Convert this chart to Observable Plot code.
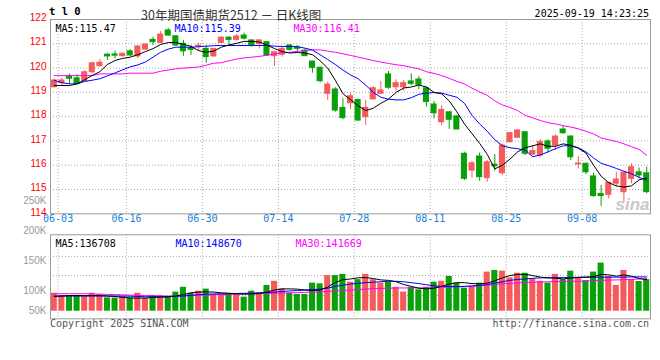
<!DOCTYPE html>
<html><head><meta charset="utf-8">
<script src="https://cdn.jsdelivr.net/npm/d3@7"></script>
<script src="https://cdn.jsdelivr.net/npm/@observablehq/plot@0.6"></script>
<style>
body{margin:0;background:#fff}
#wrap{position:relative;width:660px;height:360px;overflow:hidden;background:#fff}
#wrap svg{position:absolute;left:0}
.t{position:absolute;white-space:nowrap;line-height:1}
</style></head><body><div id="wrap"></div>
<script>
// ---------- data ----------
const dateLabels = ["06-03","06-16","06-30","07-14","07-28","08-11","08-25","09-08"];
const dateIdx = [0, 9, 19, 29, 39, 49, 59, 69];
const priceTicks = [114,115,116,117,118,119,120,121,122];
const priceGrid = [115,116,117,118,119,120,121];
const volTickLabels = ["250K","200K","150K","100K"];
const volTickValues = [250,200,150,100];
const volLowLabel = ["50K"];
const volLowValue = [50];
const volGrid = [238,155,68];

const open  = [119.21,119.38,119.65,119.58,119.46,119.83,120.08,120.55,120.56,120.49,
               120.69,120.48,120.76,121.16,121.04,121.55,121.31,121.00,120.82,120.89,
               120.79,120.48,121.04,121.25,121.16,121.34,121.14,121.00,121.07,120.49,
               120.55,120.93,120.86,120.72,120.27,120.01,118.94,119.12,118.36,118.55,
               118.69,117.98,118.71,118.94,119.74,119.21,119.21,119.45,119.53,119.17,
               118.50,117.77,118.18,118.01,116.47,115.78,116.36,115.47,116.02,115.67,
               116.95,117.13,117.36,116.44,116.40,116.98,116.81,117.47,117.18,116.03,
               116.06,115.54,114.82,114.78,115.24,114.89,115.44,115.71,115.67];
const high  = [119.56,119.58,119.76,119.74,119.90,120.24,120.35,120.61,120.69,120.61,
               120.76,120.93,121.00,121.27,121.51,121.63,121.34,121.14,120.93,121.02,
               120.93,120.80,121.30,121.30,121.38,121.44,121.14,121.14,121.07,120.69,
               120.86,120.96,120.93,120.79,120.27,120.04,119.42,119.19,118.74,118.94,
               118.71,118.67,119.24,119.45,119.86,119.52,119.49,119.76,119.65,119.21,
               118.62,118.46,118.18,118.05,116.54,116.17,116.50,116.19,116.44,116.88,
               117.36,117.46,117.36,116.81,117.05,117.05,117.25,117.60,117.22,116.36,
               116.06,115.67,115.17,115.28,115.71,115.71,116.06,115.89,115.92];
const low   = [119.19,119.28,119.32,119.32,119.45,119.76,120.04,120.31,120.38,120.45,
               120.48,120.38,120.75,120.93,121.00,121.30,120.89,120.48,120.52,120.69,
               120.20,120.45,121.00,120.93,121.11,121.16,120.86,120.79,120.48,120.07,
               120.45,120.69,120.65,120.48,119.79,119.39,118.67,118.18,117.87,118.29,
               117.81,117.64,118.71,118.94,119.12,119.04,119.04,119.28,119.11,118.39,
               117.91,117.64,117.47,117.47,115.37,115.47,115.34,115.30,115.75,115.58,
               116.92,117.13,116.40,116.40,116.33,116.50,116.61,117.27,116.19,115.85,
               115.62,114.68,114.30,114.62,115.10,114.48,115.24,115.44,114.82];
const close = [119.49,119.49,119.56,119.35,119.83,120.20,120.22,120.48,120.51,120.59,
               120.52,120.89,120.97,121.07,121.38,121.34,120.93,120.69,120.75,120.92,
               120.45,120.79,121.25,121.16,121.30,121.21,120.93,121.14,120.52,120.65,
               120.79,120.75,120.79,120.49,120.01,119.46,119.32,118.25,117.94,118.84,
               117.84,118.36,119.17,119.08,119.19,119.38,119.38,119.35,119.31,118.60,
               118.14,118.28,117.87,117.47,115.44,116.08,115.51,116.12,115.96,116.81,
               117.32,117.43,116.47,116.58,116.95,116.68,117.18,117.32,116.33,116.07,
               115.71,114.73,114.73,115.28,115.41,115.69,115.92,115.58,114.89];
const ma5   = [119.28,119.28,119.28,119.35,119.52,119.70,119.85,120.15,120.31,120.40,
               120.45,120.55,120.68,120.80,120.97,121.05,121.05,120.98,120.89,120.72,
               120.65,120.70,120.86,120.95,121.02,121.10,121.10,121.07,120.95,120.80,
               120.68,120.62,120.64,120.62,120.55,120.30,120.00,119.50,118.95,118.70,
               118.45,118.25,118.35,118.55,118.72,119.00,119.18,119.22,119.30,119.22,
               119.00,118.94,118.65,118.20,117.70,117.30,116.90,116.45,115.85,116.00,
               116.25,116.55,116.72,116.80,116.88,116.78,116.78,116.88,116.82,116.70,
               116.50,116.00,115.55,115.28,115.15,115.10,115.15,115.40,115.47];
const ma10  = [119.49,119.40,119.35,119.35,119.45,119.50,119.56,119.68,119.80,119.93,
               120.05,120.13,120.25,120.45,120.65,120.78,120.86,120.86,120.86,120.88,
               120.90,120.92,120.93,120.93,120.93,120.93,120.93,120.93,120.93,120.90,
               120.89,120.89,120.88,120.82,120.74,120.55,120.35,120.15,119.92,119.72,
               119.56,119.30,119.00,118.80,118.72,118.69,118.69,118.78,118.92,118.97,
               118.99,118.97,118.88,118.80,118.55,118.05,117.70,117.40,117.05,116.80,
               116.72,116.68,116.62,116.35,116.42,116.55,116.68,116.80,116.80,116.72,
               116.55,116.30,116.08,115.98,115.87,115.75,115.65,115.50,115.39];
const ma30  = [119.69,119.69,119.69,119.69,119.69,119.69,119.76,119.76,119.76,119.76,
               119.79,119.79,119.79,119.79,119.87,119.92,119.97,120.00,120.02,120.04,
               120.12,120.20,120.22,120.30,120.37,120.42,120.45,120.48,120.53,120.58,
               120.62,120.65,120.69,120.72,120.75,120.75,120.70,120.65,120.59,120.52,
               120.45,120.38,120.31,120.25,120.19,120.14,120.10,120.03,119.97,119.85,
               119.78,119.69,119.58,119.45,119.35,119.17,119.02,118.88,118.65,118.48,
               118.38,118.25,118.05,117.95,117.84,117.75,117.70,117.63,117.57,117.50,
               117.40,117.29,117.12,117.05,116.98,116.88,116.76,116.65,116.41];
// volume in thousand lots
const vol   = [78,68,68,68,68,78,73,58,57,64, 58,78,57,68,68,61,83,104,78,87,
               96,73,73,76,76,61,87,78,112,130, 97,78,73,73,122,119,155,155,160,126,
               137,160,137,122,126,104,83,104,93,104, 126,130,151,122,100,104,122,170,177,174,
               145,165,165,141,130,122,160,137,174,145, 133,170,209,151,112,177,137,129,137];
const vma5  = [64,66,68,68,68,68,68,66,64,60, 57,57,57,60,61,62,66,72,80,83,
               84,83,80,78,76,74,75,77,83,92, 97,97,96,92,90,92,105,125,137,140,
               145,146,142,136,134,128,116,108,100,97, 100,108,118,124,124,120,119,122,132,145,
               155,160,160,155,148,145,144,140,144,147, 148,150,160,158,152,158,152,142,137];
const vma10 = [66,66,66,66,66,66,66,66,66,66, 65,64,63,63,63,64,65,66,69,72,
               74,75,76,76,77,78,79,80,81,83, 86,88,90,92,94,96,100,108,113,118,
               121,124,126,128,130,130,128,124,120,115, 110,108,107,107,108,110,112,116,122,128,
               134,138,140,143,145,145,146,146,147,147, 148,148,148,148,148,148,149,149,149];
const vma30 = [76,76,76,76,76,75,74,73,72,71, 70,69,68,67,66,66,66,67,68,69,
               70,71,72,73,74,75,75,76,77,78, 79,80,81,82,83,84,86,88,90,92,
               94,96,98,99,100,101,101,101,101,102, 103,104,105,106,107,108,110,113,116,119,
               121,123,125,126,127,128,129,129,130,130, 131,132,134,135,136,137,138,140,142];
const priceMALabels = ["MA5:115.47","MA10:115.39","MA30:116.41"];
const volMALabels = ["MA5:136708","MA10:148670","MA30:141669"];
const titleText = "30年期国债期货2512 － 日K线图";
const codeText = "t l 0";
const timeText = "2025-09-19 14:23:25";
const copyText = "Copyright 2025 SINA.COM";
const urlText = "http://finance.sina.com.cn";

// ---------- build ----------
const UP = "#f65b5b", DN = "#09a009";
const MONO = "DejaVu Sans Mono, Liberation Mono, monospace";
const SANS = "Liberation Sans, Arial, sans-serif";
const GRID = "#aaaaaa", FRAME = "#9a9a9a";
const slots = d3.range(open.length);
const candles = slots.map(i => ({i, o: open[i], h: high[i], l: low[i], c: close[i], v: vol[i]}));
const col = d => d.c >= d.o ? UP : DN;
const wrap = document.getElementById("wrap");

const main = Plot.plot({
  width: 660, height: 230,
  marginTop: 19, marginBottom: 16.7, marginLeft: 50, marginRight: 10,
  x: {domain: [-0.5, 78.5], axis: null},
  y: {domain: [114, 122], axis: null},
  style: {background: "transparent", fontFamily: SANS, overflow: "visible"},
  marks: [
    Plot.ruleY(priceGrid, {stroke: GRID, strokeDasharray: "1,2"}),
    Plot.ruleX(dateIdx, {x: d => d + 0.5, stroke: GRID, strokeDasharray: "1,2"}),
    Plot.ruleX(candles, {x: "i", y1: "l", y2: "h", stroke: col, strokeWidth: 1}),
    Plot.rect(candles, {x1: d => d.i - 0.4, x2: d => d.i + 0.4, y1: "o", y2: "c", fill: col, insetTop: -0.5, insetBottom: -0.5}),
    Plot.line(slots, {x: d => d, y: i => ma30[i], stroke: "#ff00ff", strokeWidth: 1}),
    Plot.line(slots, {x: d => d, y: i => ma10[i], stroke: "#0000ff", strokeWidth: 1}),
    Plot.line(slots, {x: d => d, y: i => ma5[i], stroke: "#000000", strokeWidth: 1}),
    Plot.frame({stroke: FRAME}),
    Plot.axisY({ticks: priceTicks, tickSize: 0, tickPadding: 4, color: "#ff0000", fontSize: 10, fontFamily: SANS, dy: -1.5, tickFormat: d => String(d)}),
    Plot.text(dateLabels, {x: (d, k) => dateIdx[k] + 0.5, frameAnchor: "bottom", dy: 8, fill: "#1a7fd4", fontFamily: MONO, fontSize: 10}),
    Plot.text([priceMALabels[0]], {frameAnchor: "top-left", dx: 5, dy: 5, textAnchor: "start", fill: "#000", fontFamily: MONO, fontSize: 10}),
    Plot.text([priceMALabels[1]], {frameAnchor: "top-left", dx: 124, dy: 5, textAnchor: "start", fill: "#0000ff", fontFamily: MONO, fontSize: 10}),
    Plot.text([priceMALabels[2]], {frameAnchor: "top-left", dx: 243, dy: 5, textAnchor: "start", fill: "#ff00ff", fontFamily: MONO, fontSize: 10}),
    Plot.text(["sina"], {frameAnchor: "bottom-right", dx: -1, dy: -4, textAnchor: "end", lineAnchor: "bottom", fill: "#c8c8c8", fontSize: 17, fontWeight: "bold", fontStyle: "italic", fontFamily: SANS})
  ]
});
main.style.top = "0px";
wrap.appendChild(main);

const volPlot = Plot.plot({
  width: 660, height: 92,
  marginTop: 4.3, marginBottom: 3.7, marginLeft: 50, marginRight: 10,
  x: {domain: [-0.5, 78.5], axis: null},
  y: {domain: [-33, 332], axis: null},
  style: {background: "transparent", fontFamily: SANS, overflow: "visible"},
  marks: [
    Plot.ruleY(volGrid, {stroke: GRID, strokeDasharray: "1,2"}),
    Plot.ruleX(dateIdx, {x: d => d + 0.5, stroke: GRID, strokeDasharray: "1,2"}),
    Plot.rect(candles, {x1: d => d.i - 0.4, x2: d => d.i + 0.4, y1: 0, y2: "v", fill: col}),
    Plot.line(slots, {x: d => d, y: i => vma30[i], stroke: "#ff00ff", strokeWidth: 1}),
    Plot.line(slots, {x: d => d, y: i => vma10[i], stroke: "#0000ff", strokeWidth: 1}),
    Plot.line(slots, {x: d => d, y: i => vma5[i], stroke: "#000000", strokeWidth: 1}),
    Plot.frame({stroke: FRAME}),
    Plot.text([volMALabels[0]], {frameAnchor: "top-left", dx: 5, dy: 5, textAnchor: "start", fill: "#000", fontFamily: MONO, fontSize: 10}),
    Plot.text([volMALabels[1]], {frameAnchor: "top-left", dx: 125, dy: 5, textAnchor: "start", fill: "#0000ff", fontFamily: MONO, fontSize: 10}),
    Plot.text([volMALabels[2]], {frameAnchor: "top-left", dx: 245, dy: 5, textAnchor: "start", fill: "#ff00ff", fontFamily: MONO, fontSize: 10})
  ]
});
volPlot.style.top = "230px";
wrap.appendChild(volPlot);

const volAxis = Plot.plot({
  width: 50, height: 140,
  marginTop: 10.7, marginBottom: 9.3, marginLeft: 0, marginRight: 0,
  x: {domain: [0, 1], axis: null},
  y: {domain: [50, 250], axis: null},
  style: {background: "transparent", fontFamily: SANS, overflow: "visible"},
  marks: [
    Plot.text(volTickLabels, {y: (d, k) => volTickValues[k], frameAnchor: "right", dx: -4, textAnchor: "end", fill: "#999", fontSize: 10, fontFamily: SANS}),
    Plot.text(volLowLabel, {y: (d, k) => volLowValue[k], frameAnchor: "right", dx: -4, dy: -10.7, textAnchor: "end", fill: "#999", fontSize: 10, fontFamily: SANS})
  ]
});
volAxis.style.top = "190px";
wrap.appendChild(volAxis);

function addText(txt, css) {
  const d = document.createElement("div");
  d.className = "t";
  d.textContent = txt;
  Object.assign(d.style, css);
  wrap.appendChild(d);
}
addText(codeText, {left: "49px", top: "5px", font: "bold 10.5px " + MONO, color: "#000"});
addText(titleText, {left: "141px", top: "4.5px", font: "12.5px 'Noto Sans CJK SC', sans-serif", color: "#333"});
addText(timeText, {right: "11px", top: "7.5px", font: "10px " + MONO, color: "#000"});
addText(copyText, {left: "50px", top: "318px", font: "10px " + MONO, color: "#555"});
addText(urlText, {right: "11px", top: "318px", font: "10px " + MONO, color: "#555"});
</script></body></html>
